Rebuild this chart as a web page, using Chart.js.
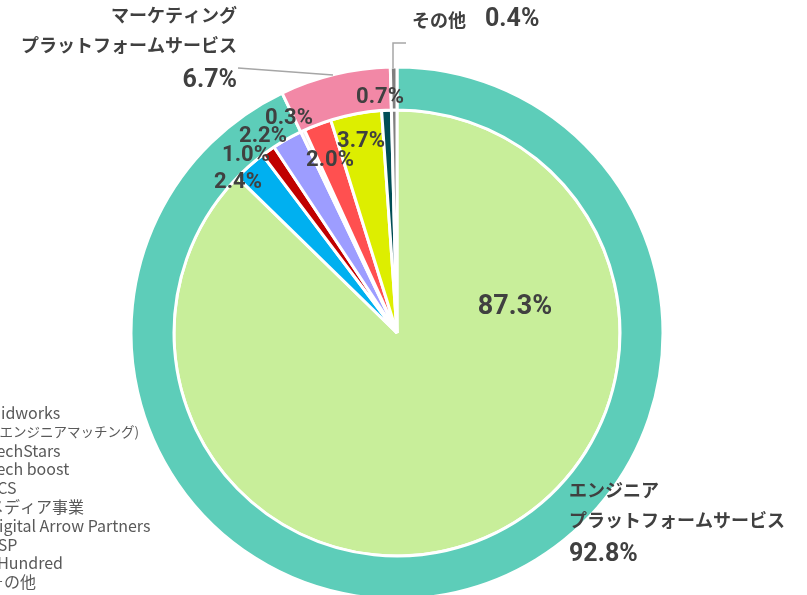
<!DOCTYPE html>
<html lang="ja">
<head>
<meta charset="utf-8">
<script src="https://cdn.jsdelivr.net/npm/chart.js@4"></script>
<style>
  html, body { margin: 0; padding: 0; background: #fff; }
  #wrap { position: relative; width: 807px; height: 595px; overflow: hidden; }
</style>
</head>
<body>
<div id="wrap"><canvas id="segmentChart" width="807" height="595"></canvas></div>
<script>
// outer ring: business segments
const segmentNames = ['エンジニア\nプラットフォームサービス', 'マーケティング\nプラットフォームサービス', 'その他'];
const segmentShares = [92.8, 6.7, 0.4];
const segmentColors = ['#5DCDB9', '#F288A6', '#808080'];

// inner pie: services / subsidiaries
const serviceNames = [
  ['Midworks', '(エンジニアマッチング)'],
  'TechStars', 'Tech boost', 'TCS', 'メディア事業',
  'Digital Arrow Partners', 'ASP', 'XHundred', 'その他'
];
const serviceShares = [87.3, 2.4, 1.0, 2.2, 0.3, 2.0, 3.7, 0.7, 0.4];
const serviceColors = ['#C8EE9A', '#00B0F0', '#C00000', '#9D9DFF', '#EDEDED', '#FF5050', '#DDEE00', '#004D55', '#808080'];

const TEXT = '#404040';
const NUM_FONT = 'Roboto, "Noto Sans CJK JP", sans-serif';
const JP_FONT = '"Noto Sans CJK JP", sans-serif';

// where each inner label sits, relative to the pie centre (null = no label)
const serviceLabelSpots = [
  { dx: 118, dy: -26, size: 27 },
  { dx: -159, dy: -151 }, { dx: -151, dy: -178 }, { dx: -134, dy: -197 },
  { dx: -108, dy: -215 }, { dx: -67, dy: -173 }, { dx: -36, dy: -192 },
  { dx: -17, dy: -236 }, null
];

// outer labels: name lines + value, with optional leader line
const segmentLabelSpots = [
  { dx: 172, dy: 157, align: 'left', lineGap: 30, valueGap: 35 },
  { dx: -160, dy: -318, align: 'right', lineGap: 30, valueGap: 36,
    leader: [[-159, -265], [-64, -258]] },
  { dx: 15, dy: -313, align: 'left', inline: 73,
    leader: [[-4, -265], [-4, -290], [9, -290]] }
];

const labelPlugin = {
  id: 'sliceLabels',
  afterDatasetsDraw(chart) {
    const ctx = chart.ctx;
    ctx.save();
    ctx.textBaseline = 'middle';

    // inner values
    const inner = chart.getDatasetMeta(1);
    inner.data.forEach((arc, i) => {
      const spot = serviceLabelSpots[i];
      if (!spot) return;
      ctx.fillStyle = TEXT;
      ctx.textAlign = 'center';
      ctx.font = `bold ${spot.size || 22}px ${NUM_FONT}`;
      ctx.fillText(serviceShares[i].toFixed(1) + '%', arc.x + spot.dx, arc.y + spot.dy);
    });

    // outer names + values
    const outer = chart.getDatasetMeta(0);
    outer.data.forEach((arc, i) => {
      const spot = segmentLabelSpots[i];
      const x = arc.x + spot.dx;
      let y = arc.y + spot.dy;
      if (spot.leader) {
        ctx.strokeStyle = '#A6A6A6';
        ctx.lineWidth = 1.5;
        ctx.beginPath();
        spot.leader.forEach(([lx, ly], k) => {
          if (k === 0) ctx.moveTo(arc.x + lx, arc.y + ly);
          else ctx.lineTo(arc.x + lx, arc.y + ly);
        });
        ctx.stroke();
      }
      ctx.fillStyle = TEXT;
      ctx.textAlign = spot.align;
      const lines = segmentNames[i].split('\n');
      const value = segmentShares[i].toFixed(1) + '%';
      if (spot.inline) {
        ctx.font = `bold 18px ${JP_FONT}`;
        ctx.fillText(lines[0], x, y);
        ctx.font = `bold 25px ${NUM_FONT}`;
        ctx.fillText(value, x + spot.inline, y);
        return;
      }
      ctx.font = `bold 18px ${JP_FONT}`;
      lines.forEach((line, k) => {
        ctx.fillText(line, x, y);
        if (k < lines.length - 1) y += spot.lineGap;
      });
      ctx.font = `bold 25px ${NUM_FONT}`;
      ctx.fillText(value, x, y + spot.valueGap);
    });
    ctx.restore();
  },
  afterDraw(chart) {
    // legend for the inner pie, running off the left edge
    const ctx = chart.ctx;
    ctx.save();
    ctx.textAlign = 'left';
    ctx.textBaseline = 'middle';
    let y = 413;
    const step = 18.8;
    serviceNames.forEach((name, i) => {
      const lines = Array.isArray(name) ? name : [name];
      ctx.fillStyle = serviceColors[i];
      ctx.fillRect(-26, y - 4, 8, 8);
      ctx.fillStyle = '#595959';
      lines.forEach((line, k) => {
        ctx.font = `${k ? 13.5 : 16}px ${JP_FONT}`;
        ctx.fillText(line, k ? -5 : -12, y);
        y += step;
      });
    });
    ctx.restore();
  }
};

new Chart(document.getElementById('segmentChart'), {
  type: 'pie',
  data: {
    labels: serviceNames,
    datasets: [
      {
        label: 'セグメント',
        data: segmentShares,
        backgroundColor: segmentColors,
        borderColor: '#fff',
        borderWidth: 3,
        weight: 43,
        clip: false
      },
      {
        label: 'サービス',
        data: serviceShares,
        backgroundColor: serviceColors,
        borderColor: '#fff',
        borderWidth: 3,
        weight: 223,
        clip: false
      }
    ]
  },
  options: {
    responsive: false,
    animation: false,
    radius: 266,
    layout: { padding: { left: 0, right: 13, top: 71, bottom: 0 } },
    plugins: {
      legend: { display: false },
      tooltip: { enabled: false }
    }
  },
  plugins: [labelPlugin]
});
</script>
</body>
</html>
